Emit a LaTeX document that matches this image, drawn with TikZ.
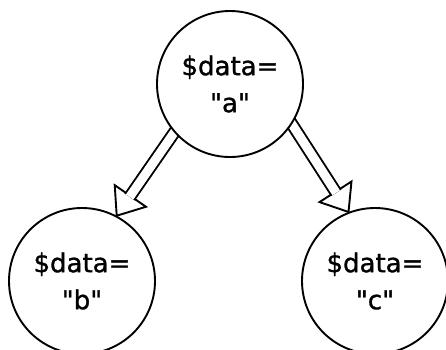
\documentclass[tikz,border=0pt]{standalone}
\usepackage{fontspec}
\setmainfont{DejaVu Sans}
\newfontfamily\labelfont{DejaVu Sans}[FakeBold=1.2]
\usetikzlibrary{calc}
\pgfdeclarelayer{back}
\pgfsetlayers{back,main}

\begin{document}
\begin{tikzpicture}[x=1pt,y=-1pt,
    bubble/.style={circle,draw,line width=1.9pt,fill=white,minimum size=146pt,inner sep=0pt,align=center,font=\labelfont\fontsize{26}{37}\selectfont},
    shaft/.style={draw,double,double distance=9pt,line width=1.9pt},
    head/.style={draw,fill=white,line width=1.9pt,line join=miter}]
    \useasboundingbox (0,0) rectangle (446,349);
    % circles
    \node [bubble] (top) at (230,84) {\$data=\\\symbol{34}a\symbol{34}};
    \node [bubble] (left) at (82,281) {\$data=\\\symbol{34}b\symbol{34}};
    \node [bubble] (right) at (375,281) {\$data=\\\symbol{34}c\symbol{34}};
    % arrows
    \begin{pgfonlayer}{back}
    \foreach \src/\dst in {top.221/left.62, top.327/right.111} {
        \coordinate (back) at ($(\dst)!24pt!(\src)$);
        \draw [head] (\dst) -- ($(back)!19pt!90:(\dst)$) -- ($(back)!19pt!-90:(\dst)$) -- cycle;
        \draw [shaft] ($(\src)!-6pt!(\dst)$) -- ($(back)!1.2pt!(\dst)$);
    }
    \end{pgfonlayer}
\end{tikzpicture}
\end{document}
